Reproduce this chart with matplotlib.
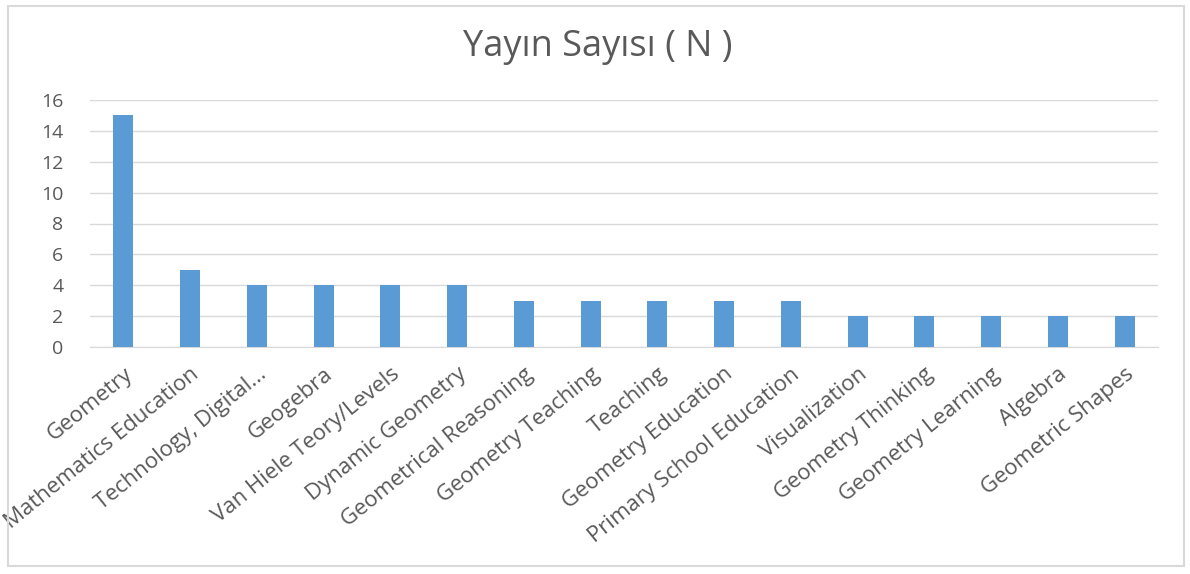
import matplotlib.pyplot as plt
from matplotlib.patches import Rectangle

categories = ['Geometry', 'Mathematics Education', 'Technology, Digital...', 'Geogebra',
              'Van Hiele Teory/Levels', 'Dynamic Geometry', 'Geometrical Reasoning',
              'Geometry Teaching', 'Teaching', 'Geometry Education',
              'Primary School Education', 'Visualization', 'Geometry Thinking',
              'Geometry Learning', 'Algebra', 'Geometric Shapes']
counts = [15, 5, 4, 4, 4, 4, 3, 3, 3, 3, 3, 2, 2, 2, 2, 2]

plt.rcParams['font.family'] = ['Open Sans', 'DejaVu Sans']
gray = '#595959'

fig = plt.figure(figsize=(11.9, 5.74), dpi=100)
ax = fig.add_axes([90 / 1190, 1 - 347 / 574, 1068 / 1190, 247 / 574])

# outer chart frame
fig.patches.append(Rectangle((8 / 1190, 8 / 574), 1176 / 1190, 560 / 574,
                             transform=fig.transFigure, fill=False,
                             edgecolor='#D9D9D9', linewidth=1.5))

x = range(len(categories))
ax.bar(x, counts, width=0.30, color='#5B9BD5', zorder=3)
ax.set_xlim(-0.5, len(categories) - 0.5)
ax.set_ylim(0, 16)
ax.set_yticks(range(0, 17, 2))
ax.set_xticks(list(x))
ax.set_xticklabels(categories, rotation=39, ha='right', rotation_mode='anchor',
                   fontsize=16, color=gray)
ax.tick_params(axis='y', labelsize=14, labelcolor=gray, length=0, pad=19)
ax.tick_params(axis='x', length=0, pad=12)
ax.grid(axis='y', color='#D9D9D9', linewidth=1, zorder=0)
for s in ['top', 'right', 'left']:
    ax.spines[s].set_visible(False)
ax.spines['bottom'].set_color('#D9D9D9')

fig.text(598 / 1190, 1 - 47 / 574, 'Yayın Sayısı ( N )', ha='center', va='center',
         fontsize=26, color=gray)

fig.savefig('out.png', dpi=100)
